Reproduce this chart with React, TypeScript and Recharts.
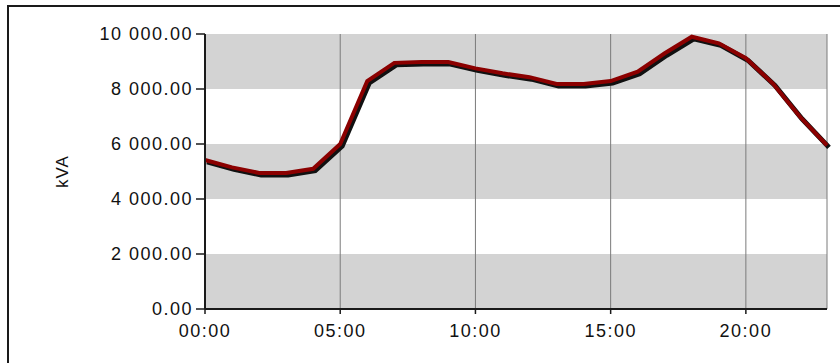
import { LineChart, Line, XAxis, YAxis, CartesianGrid } from "recharts";

// hourly load profile, kVA
const hours = [0, 1, 2, 3, 4, 5, 6, 7, 8, 9, 10, 11, 12, 13, 14, 15, 16, 17, 18, 19, 20, 21, 22, 23];
const loadKva = [
  5420, 5150, 4950, 4950, 5100, 6000, 8290, 8950, 8980, 8980, 8750, 8570,
  8430, 8180, 8180, 8290, 8630, 9300, 9900, 9660, 9120, 8200, 6990, 5950,
];
const xTicks = [0, 5, 10, 15, 20];
const yTicks = [0, 2000, 4000, 6000, 8000, 10000];

const data = hours.map((h, i) => ({ hour: h, kva: loadKva[i] }));

const fmtHour = (h: number) => `${String(h).padStart(2, "0")}:00`;
const fmtKva = (v: number) => {
  const [int, dec] = v.toFixed(2).split(".");
  return `${int.replace(/\B(?=(\d{3})+(?!\d))/g, " ")}.${dec}`;
};

const tickStyle = {
  fill: "#111",
  fontSize: 18,
  fontFamily: "Liberation Sans, Arial, sans-serif",
  letterSpacing: 1.5,
};

export default function App() {
  return (
    <div
      style={{
        position: "absolute",
        left: 0,
        top: 0,
        width: 840,
        height: 363,
        overflow: "hidden",
        background: "#fff",
      }}
    >
      <style>{`.shadow-line path { transform: translate(2px, 2px); }`}</style>
      {/* frame */}
      <div
        style={{
          position: "absolute",
          left: 7,
          top: 5,
          width: 900,
          height: 400,
          borderLeft: "2px solid #1a1a1a",
          borderTop: "2px solid #1a1a1a",
        }}
      />
      <div style={{ position: "absolute", left: 0, top: 0 }}>
        <LineChart
          width={840}
          height={363}
          data={data}
          margin={{ top: 34, right: 13, left: 0, bottom: 14 }}
        >
          <CartesianGrid
            horizontal={true}
            vertical={false}
            stroke="none"
            horizontalFill={["#d3d3d3", "#ffffff"]}
          />
          <CartesianGrid horizontal={false} vertical={true} stroke="#7a7a7a" strokeWidth={1} />
          <XAxis
            dataKey="hour"
            type="number"
            domain={[0, 23]}
            ticks={xTicks}
            tickFormatter={fmtHour}
            height={40}
            tickSize={5}
            tickMargin={10}
            axisLine={{ stroke: "#1a1a1a", strokeWidth: 2 }}
            tickLine={{ stroke: "#1a1a1a", strokeWidth: 1.5 }}
            tick={tickStyle}
          />
          <YAxis
            type="number"
            domain={[0, 10000]}
            ticks={yTicks}
            tickFormatter={fmtKva}
            width={205}
            tickSize={9}
            tickMargin={3}
            axisLine={{ stroke: "#1a1a1a", strokeWidth: 2 }}
            tickLine={{ stroke: "#1a1a1a", strokeWidth: 1.5 }}
            tick={tickStyle}
            label={{
              value: "kVA",
              angle: -90,
              position: "insideLeft",
              offset: 62,
              style: {
                textAnchor: "middle",
                fill: "#111",
                fontSize: 17,
                fontFamily: "Liberation Sans, Arial, sans-serif",
                letterSpacing: 1,
              },
            }}
          />
          <Line
            className="shadow-line"
            type="linear"
            dataKey="kva"
            stroke="#111"
            strokeWidth={5}
            dot={false}
            activeDot={false}
            isAnimationActive={false}
          />
          <Line
            type="linear"
            dataKey="kva"
            stroke="#8b0000"
            strokeWidth={4}
            dot={false}
            activeDot={false}
            isAnimationActive={false}
          />
        </LineChart>
      </div>
    </div>
  );
}
